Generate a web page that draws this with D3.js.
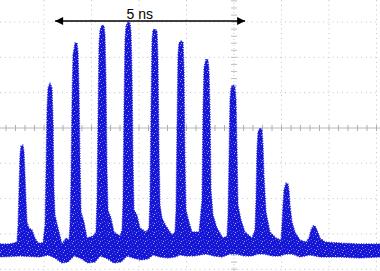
<!DOCTYPE html>
<html>
<head>
<meta charset="utf-8">
<script src="https://cdn.jsdelivr.net/npm/d3@7"></script>
<style>
  html, body { margin: 0; padding: 0; background: #fff; }
  svg { display: block; }
</style>
</head>
<body>
<div id="chart"></div>
<script>
// Pulse train trace (oscilloscope style), time in ns, amplitude in a.u.

// upper edge of the noisy trace
const upperTime = [0, 0.263,
  0.447, 0.474, 0.5, 0.526, 0.553, 0.605, 0.632, 0.658, 0.684, 0.711, 0.763, 0.842, 0.921, 1.0,
  1.132, 1.184, 1.211, 1.237, 1.263, 1.316, 1.368, 1.395, 1.421, 1.447, 1.5, 1.553, 1.632, 1.737, 1.816,
  1.842, 1.868, 1.895, 1.921, 1.974, 2.026, 2.053, 2.079, 2.105, 2.132, 2.211, 2.289, 2.447, 2.526,
  2.553, 2.579, 2.605, 2.632, 2.684, 2.737, 2.763, 2.789, 2.816, 2.842, 2.921, 3.0, 3.158, 3.211,
  3.237, 3.263, 3.289, 3.316, 3.368, 3.421, 3.447, 3.474, 3.5, 3.526, 3.605, 3.684, 3.842, 3.921,
  3.947, 3.974, 4.0, 4.026, 4.079, 4.132, 4.158, 4.184, 4.211, 4.263, 4.368, 4.526, 4.605,
  4.632, 4.658, 4.684, 4.711, 4.763, 4.816, 4.842, 4.868, 4.895, 4.947, 5.053, 5.237,
  5.316, 5.342, 5.368, 5.421, 5.474, 5.5, 5.526, 5.553, 5.605, 5.711, 5.868, 5.974,
  6.0, 6.026, 6.053, 6.079, 6.132, 6.184, 6.211, 6.237, 6.263, 6.342, 6.447, 6.632,
  6.711, 6.737, 6.763, 6.789, 6.842, 6.895, 6.921, 6.947, 7.0, 7.105, 7.263, 7.395,
  7.421, 7.447, 7.474, 7.526, 7.579, 7.605, 7.632, 7.684, 7.763, 7.895, 8.053,
  8.132, 8.184, 8.237, 8.289, 8.342, 8.421, 8.553, 8.947, 9.474, 10];
const upperAmp = [0.6, 0.6,
  0.8, 2.5, 6.0, 9.5, 10.4, 10.5, 9.8, 7.5, 5.0, 2.8, 2.2, 2.0, 1.2, 0.7,
  0.7, 2.5, 8.0, 14.0, 16.2, 16.7, 16.2, 13.0, 6.0, 3.5, 2.6, 1.8, 0.6, 1.2, 1.0,
  2.5, 7.0, 15.0, 19.5, 20.7, 20.7, 19.8, 16.0, 9.0, 3.8, 2.8, 1.2, 1.4, 1.8,
  5.0, 13.0, 20.5, 22.0, 22.5, 22.4, 21.5, 17.0, 8.0, 4.0, 3.2, 1.8, 1.4, 2.0,
  5.0, 14.0, 21.0, 22.4, 22.8, 22.7, 21.8, 17.5, 9.0, 4.0, 3.5, 2.2, 1.8, 2.2,
  5.0, 14.0, 21.0, 22.0, 22.1, 21.9, 19.0, 10.0, 4.5, 3.2, 2.4, 1.5, 1.8,
  4.0, 12.0, 19.5, 20.7, 20.9, 20.8, 18.0, 9.0, 4.0, 3.2, 1.8, 1.8,
  5.0, 14.0, 18.2, 19.1, 19.0, 18.0, 14.0, 6.0, 3.5, 2.2, 1.2, 1.4,
  3.5, 9.0, 15.0, 16.2, 16.5, 16.3, 15.0, 10.0, 4.5, 3.0, 1.8, 1.2,
  2.0, 5.0, 10.0, 11.8, 12.2, 12.0, 10.5, 7.5, 3.8, 1.8, 1.2, 1.0,
  2.5, 4.5, 6.0, 6.7, 6.6, 6.0, 4.5, 2.8, 1.8, 1.0, 0.8,
  1.2, 2.0, 2.4, 2.4, 2.0, 1.2, 0.8, 0.7, 0.6, 0.6];

// lower edge of the noisy trace
const lowerTime = [0, 0.526, 1.053, 1.263, 1.447, 1.632, 1.789, 1.947, 2.105, 2.316, 2.5, 2.632,
  2.789, 3.0, 3.184, 3.342, 3.5, 3.711, 3.895, 4.026, 4.211, 4.421, 4.605, 4.737,
  4.895, 5.105, 5.263, 5.421, 5.632, 5.842, 6.053, 6.211, 6.421, 6.632, 6.789,
  6.947, 7.158, 7.368, 7.526, 7.684, 7.895, 8.158, 8.421, 8.947, 9.474, 10];
const lowerAmp = [-0.7, -0.6, -0.7, -0.5, -0.8, -1.3, -1.2, -0.6, -0.8, -1.3, -1.2, -0.6,
  -0.8, -1.3, -1.2, -0.6, -0.8, -1.0, -0.9, -0.5, -0.7, -0.8, -0.7, -0.5,
  -0.6, -0.6, -0.5, -0.4, -0.6, -0.7, -0.4, -0.4, -0.6, -0.6, -0.4,
  -0.4, -0.6, -0.6, -0.4, -0.4, -0.7, -0.5, -0.7, -0.7, -0.8, -0.7];

// graticule
const gridTime = [1.158, 2.408, 3.658, 4.908, 6.158, 7.408, 8.658, 9.908];
const gridAmp = [22.8, 19.27, 15.74, 12.2, 8.67, 5.14, 1.6, -1.93];
const centerTime = 6.158;
const centerAmp = 12.2;

// 5 ns marker
const markerStart = 1.45;
const markerEnd = 6.45;
const markerAmp = 22.9;
const markerLabel = '5 ns';
const markerLabelTime = 3.68;

const width = 380;
const height = 271;

const x = d3.scaleLinear().domain([0, 10]).range([0, width]);
const y = d3.scaleLinear().domain([-2.1, 25]).range([height, 0]);

const svg = d3.select('#chart')
  .append('svg')
  .attr('width', width)
  .attr('height', height);

const defs = svg.append('defs');

// speckle texture on the trace
const pat = defs.append('pattern')
  .attr('id', 'speckle')
  .attr('width', 9)
  .attr('height', 9)
  .attr('patternUnits', 'userSpaceOnUse');
pat.append('rect').attr('width', 9).attr('height', 9).attr('fill', '#1616d6');
[[0, 0], [4, 1], [7, 2], [2, 3], [5, 5], [8, 6], [1, 7], [6, 8], [3, 6]].forEach(([px, py], i) => {
  pat.append('rect')
    .attr('x', px).attr('y', py)
    .attr('width', 1).attr('height', 1)
    .attr('fill', i % 3 ? '#8f8ff5' : '#ffffff')
    .attr('opacity', 0.6);
});

defs.append('marker')
  .attr('id', 'arrow')
  .attr('viewBox', '0 0 10 10')
  .attr('refX', 10)
  .attr('refY', 5)
  .attr('markerWidth', 10)
  .attr('markerHeight', 8)
  .attr('markerUnits', 'userSpaceOnUse')
  .attr('orient', 'auto-start-reverse')
  .append('path')
  .attr('d', 'M0,0L10,5L0,10Z')
  .attr('fill', '#000');

// dotted grid
const grid = svg.append('g');
grid.selectAll('.vgrid')
  .data(gridTime.filter(t => t !== centerTime))
  .join('line')
  .attr('x1', d => x(d)).attr('x2', d => x(d))
  .attr('y1', 0).attr('y2', height)
  .attr('stroke', '#c4c4c4')
  .attr('stroke-width', 1)
  .attr('stroke-dasharray', '1 3.75');
grid.selectAll('.hgrid')
  .data(gridAmp.filter(a => a !== centerAmp))
  .join('line')
  .attr('x1', 0).attr('x2', width)
  .attr('y1', d => y(d)).attr('y2', d => y(d))
  .attr('stroke', '#c4c4c4')
  .attr('stroke-width', 1)
  .attr('stroke-dasharray', '1 3.75');

// center axes with minor ticks
const divT = gridTime[1] - gridTime[0];
const divA = gridAmp[0] - gridAmp[1];
const minorT = d3.range(-40, 40).map(i => centerTime + i * divT / 5).filter(t => t >= 0 && t <= 10);
const minorA = d3.range(-40, 40).map(i => centerAmp + i * divA / 5).filter(a => a >= -2.1 && a <= 25);

grid.append('line')
  .attr('x1', 0).attr('x2', width)
  .attr('y1', y(centerAmp)).attr('y2', y(centerAmp))
  .attr('stroke', '#b8b8b8');
grid.append('line')
  .attr('x1', x(centerTime)).attr('x2', x(centerTime))
  .attr('y1', 0).attr('y2', height)
  .attr('stroke', '#c8c8c8')
  .attr('stroke-dasharray', '1 2');
grid.selectAll('.tx')
  .data(minorT)
  .join('line')
  .attr('x1', d => x(d)).attr('x2', d => x(d))
  .attr('y1', y(centerAmp) - 3).attr('y2', y(centerAmp) + 3)
  .attr('stroke', '#b0b0b0');
grid.selectAll('.ty')
  .data(minorA)
  .join('line')
  .attr('x1', x(centerTime) - 3).attr('x2', x(centerTime) + 3)
  .attr('y1', d => y(d)).attr('y2', d => y(d))
  .attr('stroke', '#c0c0c0');

// trace band
const upper = upperTime.map((t, i) => [t, upperAmp[i]]);
const lower = lowerTime.map((t, i) => [t, lowerAmp[i]]).reverse();
const band = d3.line().x(d => x(d[0])).y(d => y(d[1]));
const bandPath = band(upper.concat(lower)) + 'Z';

svg.append('path')
  .attr('d', bandPath)
  .attr('fill', 'url(#speckle)')
  .attr('stroke', '#2222dd')
  .attr('stroke-width', 1.3)
  .attr('stroke-dasharray', '1 1.5')
  .attr('stroke-linejoin', 'round');

// 5 ns marker
svg.append('line')
  .attr('x1', x(markerStart)).attr('x2', x(markerEnd))
  .attr('y1', y(markerAmp)).attr('y2', y(markerAmp))
  .attr('stroke', '#000')
  .attr('stroke-width', 1.6)
  .attr('marker-start', 'url(#arrow)')
  .attr('marker-end', 'url(#arrow)');

svg.append('text')
  .attr('x', x(markerLabelTime))
  .attr('y', y(markerAmp) - 2)
  .attr('text-anchor', 'middle')
  .attr('font-family', 'Liberation Sans, Arial, sans-serif')
  .attr('font-size', 14)
  .attr('fill', '#000')
  .text(markerLabel);
</script>
</body>
</html>
